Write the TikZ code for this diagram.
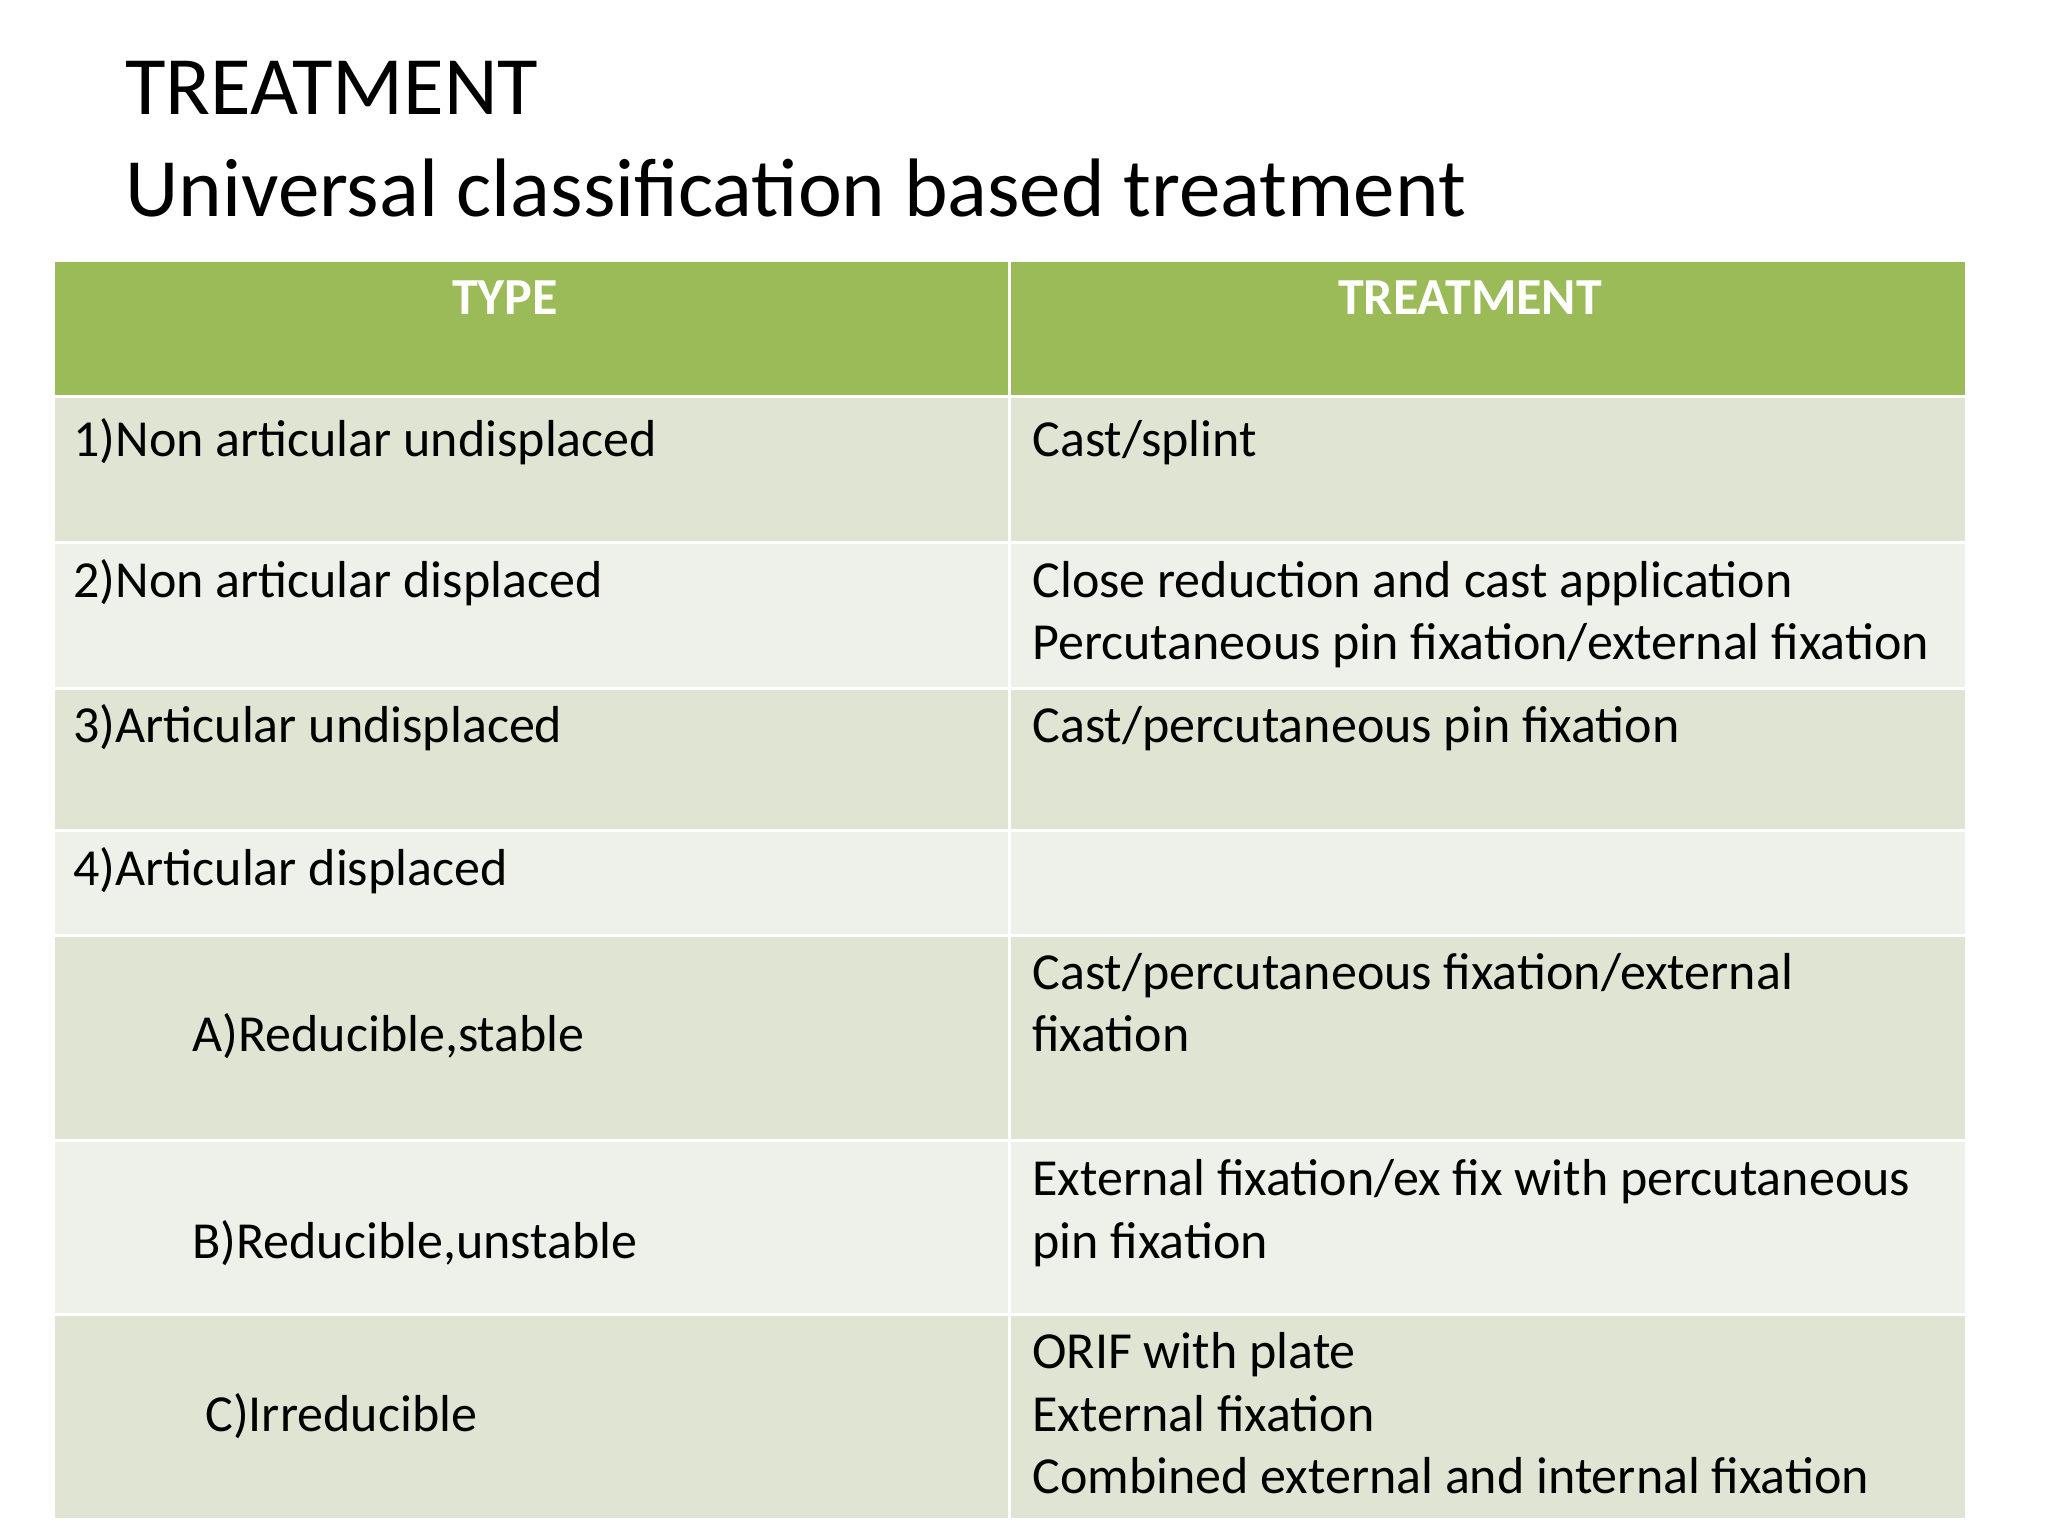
\documentclass[tikz,border=0pt]{standalone}
\usepackage{fontspec}
\setmainfont{Carlito}
\definecolor{hdr}{HTML}{9BBB59}
\definecolor{rdark}{HTML}{E0E5D3}
\definecolor{rlight}{HTML}{EEF1E9}
\begin{document}
\begin{tikzpicture}[x=0.5pt,y=-0.5pt,
  cell/.style={draw=white,line width=1.5pt},
  txt/.style={anchor=base west,inner sep=0pt,font=\fontsize{26}{30}\selectfont},
  htxt/.style={anchor=base,inner sep=0pt,text=white,font=\fontsize{26}{30}\selectfont\bfseries},
  ttl/.style={anchor=base west,inner sep=0pt,font=\fontsize{41.5}{48}\selectfont}]
\useasboundingbox (0,0) rectangle (2048,1536);
\fill[white] (0,0) rectangle (2048,1536);
\node[ttl] (t1) at (125,114) {TREATMENT};
\node[ttl] (t2) at (125,216) {Universal classification based treatment};
\filldraw[cell,fill=hdr] (53,260) rectangle (1009,396);
\filldraw[cell,fill=hdr] (1009,260) rectangle (1966,396);
\foreach \a/\b/\c in {396/542/rdark,542/688/rlight,688/830/rdark,830/935/rlight,935/1140/rdark,1140/1314/rlight,1314/1519/rdark}{
  \filldraw[cell,fill=\c] (53,\a) rectangle (1009,\b);
  \filldraw[cell,fill=\c] (1009,\a) rectangle (1966,\b);
}
\node[htxt] (h1) at (505,314) {TYPE};
\node[htxt] (h2) at (1470,314) {TREATMENT};
\node[txt] (l1) at (73,456) {1)Non articular undisplaced};
\node[txt] (r1) at (1032,456) {Cast/splint};
\node[txt] (l2) at (73,597) {2)Non articular displaced};
\node[txt] (r2a) at (1032,597) {Close reduction and cast application};
\node[txt] (r2b) at (1032,659) {Percutaneous pin fixation/external fixation};
\node[txt] (l3) at (73,742) {3)Articular undisplaced};
\node[txt] (r3) at (1032,742) {Cast/percutaneous pin fixation};
\node[txt] (l4) at (73,885) {4)Articular displaced};
\node[txt] (l5) at (192,1051) {A)Reducible,stable};
\node[txt] (r5a) at (1032,989) {Cast/percutaneous fixation/external};
\node[txt] (r5b) at (1032,1051) {fixation};
\node[txt] (l6) at (192,1258) {B)Reducible,unstable};
\node[txt] (r6a) at (1032,1195) {External fixation/ex fix with percutaneous};
\node[txt] (r6b) at (1032,1258) {pin fixation};
\node[txt] (l7) at (205,1431) {C)Irreducible};
\node[txt] (r7a) at (1032,1368) {ORIF with plate};
\node[txt] (r7b) at (1032,1431) {External fixation};
\node[txt] (r7c) at (1032,1493) {Combined external and internal fixation};
\end{tikzpicture}
\end{document}
